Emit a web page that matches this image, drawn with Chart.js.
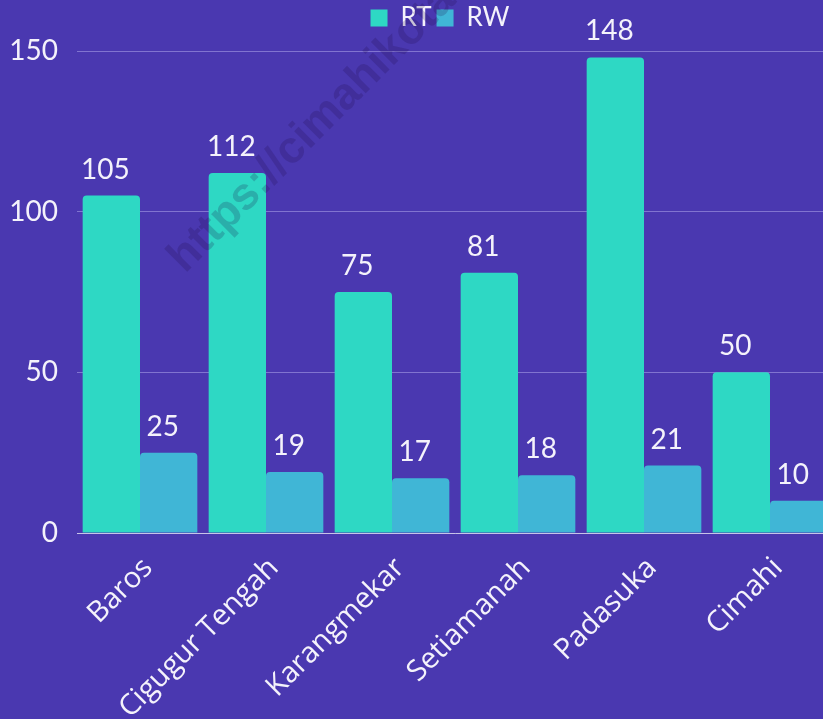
<!DOCTYPE html>
<html>
<head>
<meta charset="utf-8">
<script src="https://cdn.jsdelivr.net/npm/chart.js@4.4.1/dist/chart.umd.min.js"></script>
<style>
  html, body { margin: 0; padding: 0; overflow: hidden; background: #4a38b0; }
  #wrap { width: 880px; height: 719px; }
</style>
</head>
<body>
<div id="wrap"><canvas id="grafik" width="880" height="719"></canvas></div>
<script>
// data kelurahan: jumlah RT dan RW
const kelurahan = ['Baros', 'Cigugur Tengah', 'Karangmekar', 'Setiamanah', 'Padasuka', 'Cimahi'];
const jumlahRT = [105, 112, 75, 81, 148, 50];
const jumlahRW = [25, 19, 17, 18, 21, 10];
const yMax = 150;
const yStep = 50;

const fontName = 'Lato, "Open Sans", sans-serif';
const textColor = '#f4f2fb';

// jarak legend ke area grafik
const legendJarak = {
    id: 'legendJarak',
    beforeInit(chart) {
        const fitAsli = chart.legend.fit;
        chart.legend.fit = function() {
            fitAsli.call(this);
            this.height += 10;
        };
    }
};

// angka di atas tiap batang
const labelAngka = {
    id: 'labelAngka',
    afterDatasetsDraw(chart) {
        const ctx = chart.ctx;
        ctx.save();
        ctx.font = '28px ' + fontName;
        ctx.fillStyle = textColor;
        ctx.textAlign = 'center';
        ctx.textBaseline = 'alphabetic';
        chart.data.datasets.forEach(function(ds, i) {
            chart.getDatasetMeta(i).data.forEach(function(bar, j) {
                ctx.fillText(ds.data[j], bar.x - 6, bar.y - 17);
            });
        });
        ctx.restore();
    }
};

// watermark miring
const watermark = {
    id: 'watermark',
    afterDraw(chart) {
        const ctx = chart.ctx;
        ctx.save();
        ctx.translate(185, 274);
        ctx.rotate(-Math.PI / 4);
        ctx.font = 'bold 45px "Liberation Sans", Arial, sans-serif';
        ctx.fillStyle = 'rgba(30, 10, 70, 0.2)';
        ctx.textAlign = 'left';
        ctx.textBaseline = 'alphabetic';
        ctx.fillText('https://cimahikota.go.id', 0, 0);
        ctx.restore();
    }
};

new Chart(document.getElementById('grafik').getContext('2d'), {
    type: 'bar',
    data: {
        labels: kelurahan,
        datasets: [{
            label: 'RT',
            data: jumlahRT,
            backgroundColor: '#2ed8c4',
            borderRadius: 4,
            categoryPercentage: 0.91,
            barPercentage: 1
        }, {
            label: 'RW',
            data: jumlahRW,
            backgroundColor: '#40b6d6',
            borderRadius: 4,
            categoryPercentage: 0.91,
            barPercentage: 1
        }]
    },
    options: {
        responsive: false,
        animation: false,
        layout: { padding: 0 },
        plugins: {
            tooltip: { enabled: false },
            legend: {
                position: 'top',
                labels: {
                    color: textColor,
                    font: { family: fontName, size: 26 },
                    boxWidth: 17,
                    boxHeight: 17,
                    padding: 5
                }
            }
        },
        scales: {
            x: {
                grid: { display: false },
                border: { color: '#c8c3e8', width: 1 },
                ticks: {
                    color: textColor,
                    font: { family: '"Open Sans", sans-serif', size: 29 },
                    maxRotation: 45,
                    minRotation: 45,
                    padding: 10,
                    labelOffset: 8
                },
                afterFit: function(scale) { scale.height = 186; }
            },
            y: {
                min: 0,
                max: yMax,
                border: { display: false },
                grid: {
                    color: 'rgba(175, 165, 235, 0.55)',
                    drawTicks: false
                },
                ticks: {
                    stepSize: yStep,
                    color: textColor,
                    font: { family: fontName, size: 28 },
                    padding: 19
                },
                afterFit: function(scale) { scale.width = 77; }
            },
            kanan: {
                position: 'right',
                grid: { display: false },
                border: { display: false },
                ticks: { display: false },
                afterFit: function(scale) { scale.width = 47; }
            }
        }
    },
    plugins: [legendJarak, labelAngka, watermark]
});
</script>
</body>
</html>
